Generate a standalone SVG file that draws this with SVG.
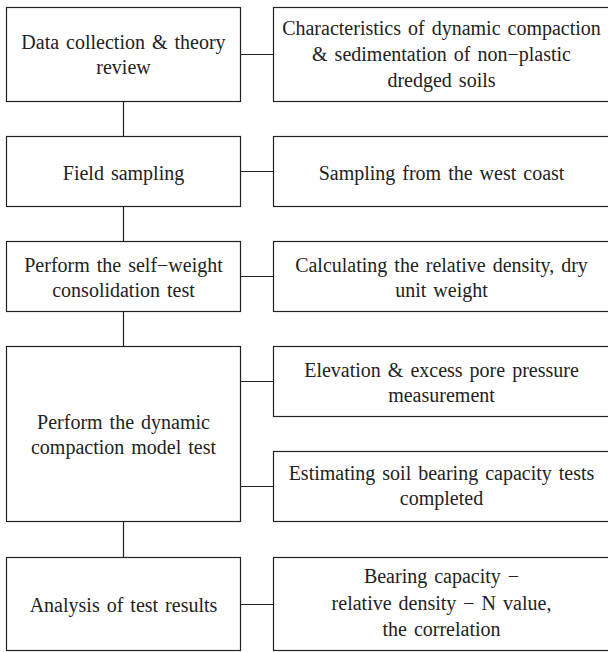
<svg xmlns="http://www.w3.org/2000/svg" width="608" height="652" viewBox="0 0 608 652">
<style>
.box{fill:#fff;stroke:#222;stroke-width:1.2}
.con{stroke:#222;stroke-width:1.2;fill:none}
text{font-family:"Liberation Serif","Times New Roman",serif;font-size:20px;fill:#222;text-anchor:middle;word-spacing:2px}
</style>
<rect width="608" height="652" fill="#fff"/>
<g id="connectors">
<path class="con" d="M123.5 101.5V136.5M123.5 206.5V241.5M123.5 311.5V346.5M123.5 521.5V557.5"/>
<path class="con" d="M240.5 54.5H273.5M240.5 171.5H273.5M240.5 276.5H273.5M240.5 381.5H273.5M240.5 486.5H273.5M240.5 604.5H273.5"/>
</g>
<g id="n1"><rect class="box" x="6.5" y="7.5" width="234" height="94"/>
<text x="123.5" y="49">Data collection &amp; theory</text><text x="123.5" y="74">review</text></g>
<g id="n2"><rect class="box" x="6.5" y="136.5" width="234" height="70"/>
<text x="123.5" y="180">Field sampling</text></g>
<g id="n3"><rect class="box" x="6.5" y="241.5" width="234" height="70"/>
<text x="123.5" y="271.5">Perform the self−weight</text><text x="123.5" y="297">consolidation test</text></g>
<g id="n4"><rect class="box" x="6.5" y="346.5" width="234" height="175"/>
<text x="123.5" y="429">Perform the dynamic</text><text x="123.5" y="454">compaction model test</text></g>
<g id="n5"><rect class="box" x="6.5" y="557.5" width="234" height="93"/>
<text x="123.5" y="612">Analysis of test results</text></g>
<g id="r1"><rect class="box" x="273.5" y="7.5" width="340" height="94"/>
<text x="441.5" y="35">Characteristics of dynamic compaction</text><text x="441.5" y="61">&amp; sedimentation of non−plastic</text><text x="441.5" y="87">dredged soils</text></g>
<g id="r2"><rect class="box" x="273.5" y="136.5" width="340" height="70"/>
<text x="441.5" y="180">Sampling from the west coast</text></g>
<g id="r3"><rect class="box" x="273.5" y="241.5" width="340" height="70"/>
<text x="441.5" y="271.5">Calculating the relative density, dry</text><text x="441.5" y="297">unit weight</text></g>
<g id="r4"><rect class="box" x="273.5" y="346.5" width="340" height="70"/>
<text x="441.5" y="376.5">Elevation &amp; excess pore pressure</text><text x="441.5" y="401.5">measurement</text></g>
<g id="r5"><rect class="box" x="273.5" y="451.5" width="340" height="70"/>
<text x="441.5" y="480">Estimating soil bearing capacity tests</text><text x="441.5" y="505">completed</text></g>
<g id="r6"><rect class="box" x="273.5" y="557.5" width="340" height="93"/>
<text x="441.5" y="583">Bearing capacity −</text><text x="441.5" y="609.5">relative density − N value,</text><text x="441.5" y="635.5">the correlation</text></g>
</svg>
